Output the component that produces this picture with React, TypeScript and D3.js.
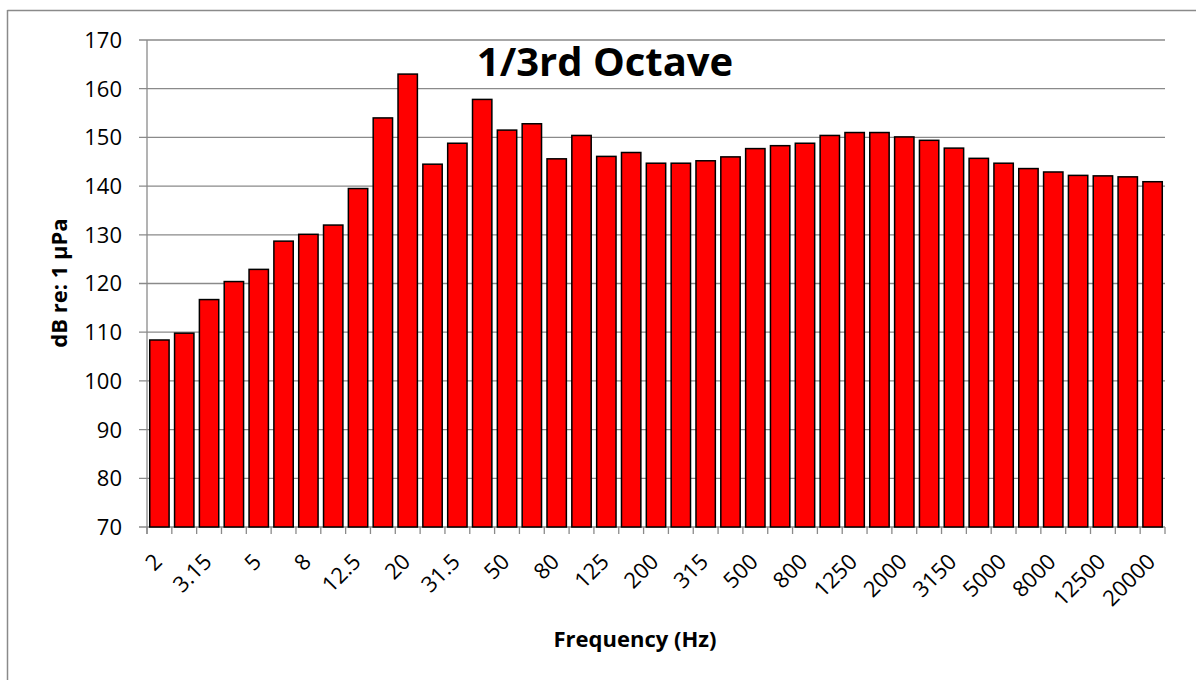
import React from 'react';
import * as d3 from 'd3';

// 1/3 octave band centre frequencies (Hz)
const bands = [
  '2', '2.5', '3.15', '4', '5', '6.3', '8', '10', '12.5', '16', '20', '25', '31.5', '40', '50', '63',
  '80', '100', '125', '160', '200', '250', '315', '400', '500', '630', '800', '1000', '1250', '1600',
  '2000', '2500', '3150', '4000', '5000', '6300', '8000', '10000', '12500', '16000', '20000',
];

// level per band, dB re: 1 µPa
const levels = [
  108.4, 109.8, 116.7, 120.4, 122.9, 128.7, 130.1, 132.0, 139.5, 154.0, 163.0, 144.5, 148.8, 157.8,
  151.5, 152.8, 145.6, 150.4, 146.1, 146.9, 144.7, 144.7, 145.2, 146.0, 147.7, 148.3, 148.8, 150.4,
  151.0, 151.0, 150.1, 149.4, 147.8, 145.7, 144.7, 143.6, 142.9, 142.2, 142.1, 141.9, 140.9,
];

const yTicks = [70, 80, 90, 100, 110, 120, 130, 140, 150, 160, 170];

// every second band gets a label, like the original
const labelledBands = bands.filter((_, i) => i % 2 === 0);

const W = 1196;
const H = 683;
const font = "'Open Sans', sans-serif";

const App = () => {
  // plot area
  const left = 147;
  const right = 1165;
  const top = 40;
  const bottom = 527;

  const xScale = d3.scaleBand().domain(bands).range([left, right]).paddingInner(0.22).paddingOuter(0.11);
  const yScale = d3.scaleLinear().domain([70, 170]).range([bottom, top]);

  const step = xScale.step();
  const gridColor = '#8a8a8a';

  return (
    <svg width={W} height={H} style={{ position: 'absolute', left: 0, top: 0, background: '#fff' }}>
      {/* chart frame (cut off at right/bottom) */}
      <line x1={7.5} x2={W} y1={10.5} y2={10.5} stroke={gridColor} strokeWidth={1.5} />
      <line x1={7.5} x2={7.5} y1={10} y2={680} stroke={gridColor} strokeWidth={1.5} />

      {/* gridlines + y ticks */}
      {yTicks.map((t) => (
        <g key={`y-${t}`}>
          <line x1={left - 8} x2={right} y1={yScale(t)} y2={yScale(t)} stroke={gridColor} strokeWidth={1.3} />
          <text x={122} y={yScale(t)} dy="0.36em" textAnchor="end" fontFamily={font} fontSize={22} fill="#000">
            {t}
          </text>
        </g>
      ))}

      {/* y axis line */}
      <line x1={left} x2={left} y1={top} y2={bottom + 7} stroke={gridColor} strokeWidth={1.3} />

      {/* x ticks between categories */}
      {d3.range(bands.length + 1).map((i) => (
        <line
          key={`xt-${i}`}
          x1={left + i * step}
          x2={left + i * step}
          y1={bottom}
          y2={bottom + 7}
          stroke={gridColor}
          strokeWidth={1.3}
        />
      ))}

      {/* bars */}
      {bands.map((b, i) => (
        <rect
          key={`bar-${b}`}
          x={xScale(b)}
          y={yScale(levels[i])}
          width={xScale.bandwidth()}
          height={bottom - yScale(levels[i])}
          fill="#ff0000"
          stroke="#000"
          strokeWidth={1.5}
        />
      ))}

      {/* x tick labels */}
      {labelledBands.map((b) => {
        const cx = (xScale(b) as number) + xScale.bandwidth() / 2 + 4;
        const cy = 563;
        return (
          <text
            key={`xl-${b}`}
            x={cx}
            y={cy}
            textAnchor="end"
            transform={`rotate(-45, ${cx}, ${cy})`}
            fontFamily={font}
            fontSize={22}
            fill="#000"
          >
            {b}
          </text>
        );
      })}

      {/* titles */}
      <text x={605} y={76} textAnchor="middle" fontFamily={font} fontWeight="bold" fontSize={40} fill="#000">
        1/3rd Octave
      </text>
      <text x={635} y={647} textAnchor="middle" fontFamily={font} fontWeight="bold" fontSize={22} fill="#000">
        Frequency (Hz)
      </text>
      <text
        x={67}
        y={283}
        textAnchor="middle"
        transform="rotate(-90, 67, 283)"
        fontFamily={font}
        fontWeight="bold"
        fontSize={22}
        fill="#000"
      >
        dB re: 1 μPa
      </text>
    </svg>
  );
};

export default App;
